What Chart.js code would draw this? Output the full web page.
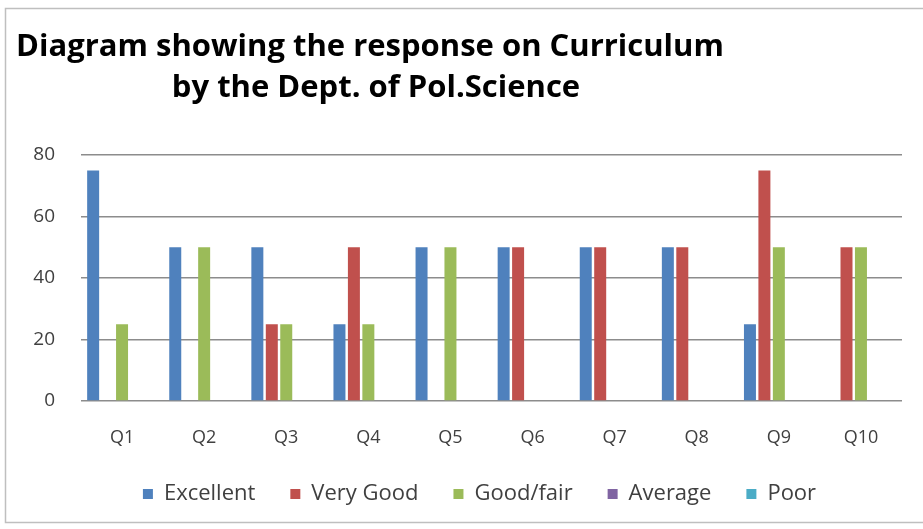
<!DOCTYPE html>
<html>
<head>
<meta charset="utf-8">
<script src="https://cdn.jsdelivr.net/npm/chart.js@4"></script>
<style>
html,body{margin:0;padding:0;background:#fff;}
#wrap{width:923px;height:529px;position:relative;}
</style>
</head>
<body>
<div id="wrap"><canvas id="c" width="923" height="529"></canvas></div>
<script>
const titleLines = ["Diagram showing the response on Curriculum", "by the Dept. of Pol.Science"];
const categories = ["Q1","Q2","Q3","Q4","Q5","Q6","Q7","Q8","Q9","Q10"];
const seriesNames = ["Excellent","Very Good","Good/fair","Average","Poor"];
const excellent = [75,50,50,25,50,50,50,50,25,0];
const veryGood  = [0,0,25,50,0,50,50,50,75,50];
const goodFair  = [25,50,25,25,50,0,0,0,50,50];
const average   = [0,0,0,0,0,0,0,0,0,0];
const poor      = [0,0,0,0,0,0,0,0,0,0];
const yTicks = [0,20,40,60,80];

const colors = ["#4F81BD","#C0504D","#9BBB59","#8064A2","#4BACC6"];
const values = [excellent, veryGood, goodFair, average, poor];

const titlePlugin = {
  id: 'customTitle',
  afterDraw(chart) {
    const ctx = chart.ctx;
    ctx.save();
    ctx.strokeStyle = '#bfbfbf';
    ctx.lineWidth = 1.5;
    ctx.strokeRect(5.5, 8.5, 930, 514);
    ctx.fillStyle = '#000';
    ctx.font = 'bold 31px "Open Sans", sans-serif';
    ctx.textAlign = 'center';
    ctx.textBaseline = 'alphabetic';
    ctx.fillText(titleLines[0], 370, 56);
    ctx.fillText(titleLines[1], 376, 97);
    ctx.restore();
  }
};

// the reference legend is centred a little right of the canvas centre
const shiftLegend = {
  id: 'shiftLegend',
  afterLayout(chart) {
    const l = chart.legend;
    if (l) { l.left += 12; l.right += 12; }
  }
};

new Chart(document.getElementById('c'), {
  type: 'bar',
  data: {
    labels: categories,
    datasets: seriesNames.map((n, i) => ({
      label: n,
      data: values[i],
      backgroundColor: colors[i],
      borderWidth: 0,
      categoryPercentage: 0.88,
      barPercentage: 0.83
    }))
  },
  options: {
    responsive: false,
    animation: false,
    layout: { padding: { top: 155, right: 21, left: 33, bottom: 14 } },
    plugins: {
      title: { display: false },
      tooltip: { enabled: false },
      legend: {
        position: 'bottom',
        labels: {
          boxWidth: 10, boxHeight: 10, padding: 35,
          color: '#404040',
          font: { family: '"Open Sans", sans-serif', size: 22 }
        }
      }
    },
    scales: {
      x: {
        grid: { display: false, drawTicks: false },
        border: { display: false },
        afterFit: (s) => { s.height = 47; },
        ticks: { color: '#404040', padding: 26, font: { family: '"Open Sans", sans-serif', size: 18 } }
      },
      y: {
        min: 0, max: 80,
        afterBuildTicks: (s) => { s.ticks = yTicks.map(v => ({ value: v })); },
        afterFit: (s) => { s.width = 48; },
        grid: { color: '#8c8c8c', lineWidth: 1.5, drawTicks: false },
        border: { display: false },
        ticks: { color: '#404040', padding: 26, font: { family: '"Open Sans", sans-serif', size: 19 } }
      }
    }
  },
  plugins: [titlePlugin, shiftLegend]
});
</script>
</body>
</html>
